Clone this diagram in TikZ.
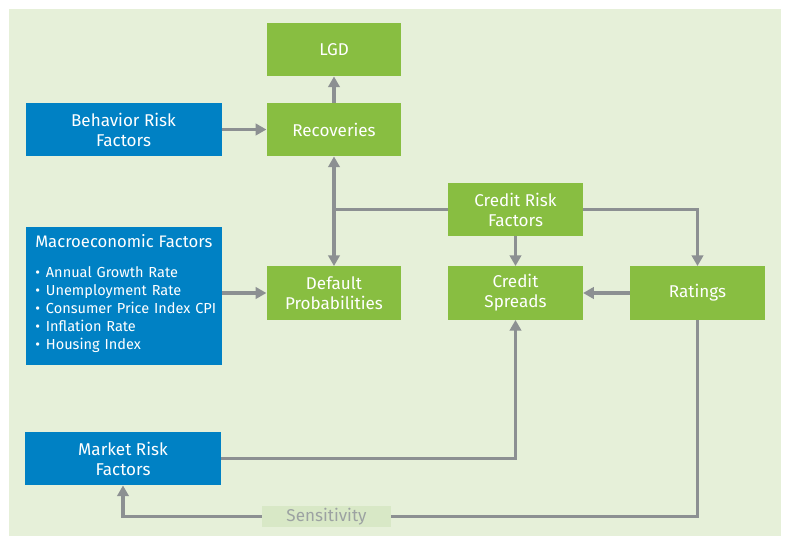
\documentclass[tikz,border=0pt]{standalone}
\usepackage{fontspec}
\setmainfont{Fira Sans}
\usetikzlibrary{arrows.meta}
\definecolor{bgcol}{HTML}{E6F0D9}
\definecolor{bluebox}{HTML}{0081C4}
\definecolor{greenbox}{HTML}{88BE41}
\definecolor{linecol}{HTML}{8C9092}
\definecolor{senscol}{HTML}{D8E8C6}
\definecolor{senstext}{HTML}{9CA2A2}
\begin{document}
\begin{tikzpicture}[x=0.75pt,y=-0.75pt,
        box/.style={text=white,align=center,inner sep=0pt,font=\fontsize{12.8}{15}\selectfont},
        greenbox/.style={box,fill=greenbox,minimum width=101pt,minimum height=40pt},
        bluebox/.style={box,fill=bluebox,minimum width=147pt,minimum height=40pt},
        arr/.style={linecol,line width=2.5pt,-{Triangle[length=8pt,width=8.5pt]}},
        ln/.style={linecol,line width=2.5pt}]
        \useasboundingbox (0,0) rectangle (785,536);
        \fill[bgcol] (9,9) rectangle (781,536);
        %% model outputs
        \node[greenbox] (lgd) at (334,49.5) {LGD};
        \node[greenbox] (recov) at (334,129.5) {Recoveries};
        \node[greenbox] (default) at (334,293) {Default\\Probabilities};
        \node[greenbox] (crf) at (515.5,209.5) {Credit Risk\\Factors};
        \node[greenbox] (spreads) at (515.5,293) {Credit\\Spreads};
        \node[greenbox] (ratings) at (697.5,293) {Ratings};
        %% risk factors
        \node[bluebox] (behav) at (123.5,129.5) {Behavior Risk\\Factors};
        \node[bluebox] (market) at (123,458.5) {Market Risk\\Factors};
        \node[bluebox,minimum height=103.5pt] (macro) at (124,296) {};
        \node[box,anchor=north west,text width=145pt,align=left,
              font=\fontsize{10.9}{13.5}\selectfont] (macrotext) at (35,234)
              {{\fontsize{12.5}{15}\selectfont Macroeconomic Factors}\\[9pt]
               \makebox[8pt][l]{\textbullet}Annual Growth Rate\\
               \makebox[8pt][l]{\textbullet}Unemployment Rate\\
               \makebox[8pt][l]{\textbullet}Consumer Price Index CPI\\
               \makebox[8pt][l]{\textbullet}Inflation Rate\\
               \makebox[8pt][l]{\textbullet}Housing Index};
        \node[fill=senscol,text=senstext,font=\fontsize{12.8}{15}\selectfont,
              minimum width=97pt,minimum height=16pt,inner sep=0pt] (sens) at (326.5,516.5) {Sensitivity};
        %% connectors
        \coordinate (split) at (recov |- crf.west);
        \draw[arr] (recov) -- (lgd);
        \draw[arr] (behav) -- (recov);
        \draw[arr] (macro.east |- default.west) -- (default.west);
        \draw[ln] (crf.west) -- (split);
        \draw[arr] (split) -- (recov.south);
        \draw[arr] (split) -- (default.north);
        \draw[arr] (crf) -- (spreads);
        \draw[arr] (crf.east) -| (ratings.north);
        \draw[arr] (ratings) -- (spreads);
        \draw[arr] (market.east) -| (spreads.south);
        \draw[ln] (ratings.south) |- (sens.east);
        \draw[arr] (sens.west) -| (market.south);
\end{tikzpicture}
\end{document}
